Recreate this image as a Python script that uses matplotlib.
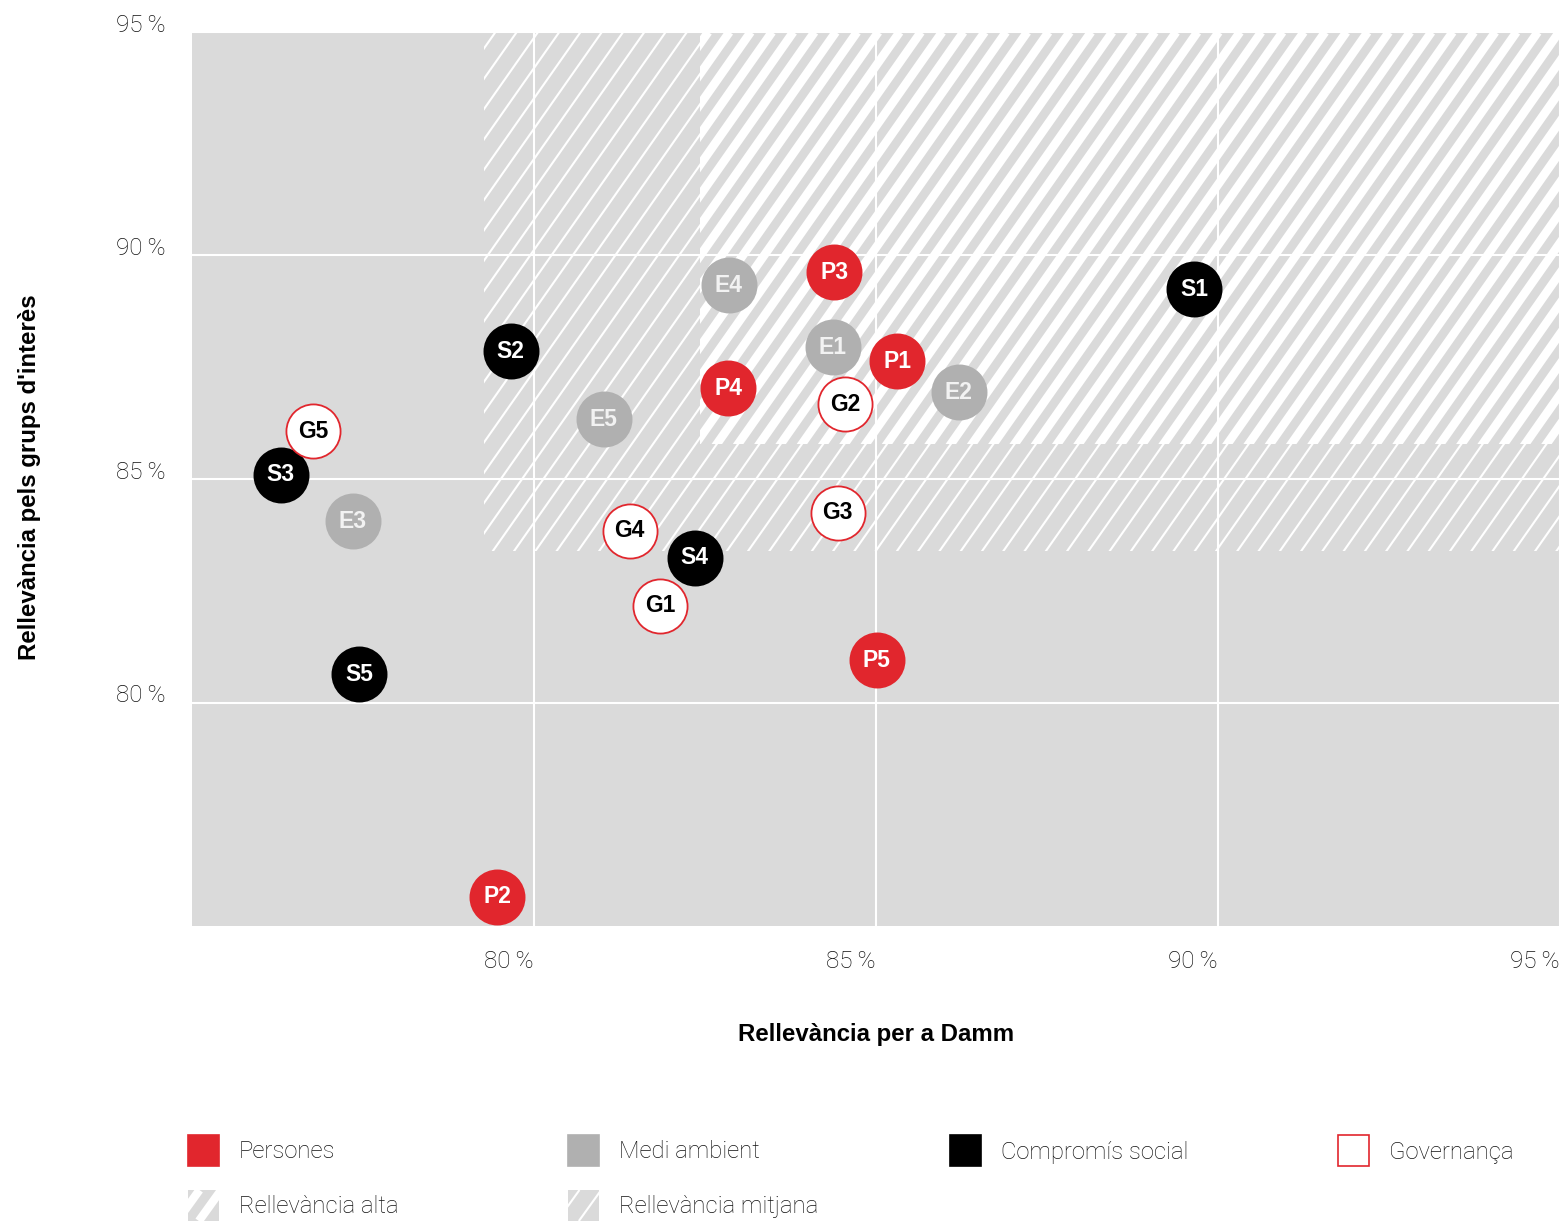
import numpy as np
import matplotlib
matplotlib.use('Agg')
import matplotlib.pyplot as plt
from matplotlib.patches import Rectangle
from matplotlib.collections import LineCollection

# Dades: rellevància per a Damm (x) i per als grups d'interès (y), en %
persones_lbl = ['P1', 'P2', 'P3', 'P4', 'P5']
persones_x = [85.31, 79.46, 84.39, 82.84, 85.01]
persones_y = [87.63, 75.65, 89.62, 87.03, 80.94]

medi_lbl = ['E1', 'E2', 'E3', 'E4', 'E5']
medi_x = [84.37, 86.21, 77.35, 82.85, 81.02]
medi_y = [87.95, 86.94, 84.06, 89.33, 86.34]

social_lbl = ['S1', 'S2', 'S3', 'S4', 'S5']
social_x = [89.65, 79.66, 76.30, 82.35, 77.44]
social_y = [89.24, 87.86, 85.09, 83.24, 80.63]

gov_lbl = ['G1', 'G2', 'G3', 'G4', 'G5']
gov_x = [81.84, 84.55, 84.44, 81.40, 76.77]
gov_y = [82.17, 86.67, 84.24, 83.84, 86.07]

# llindars de les zones
mitjana_x, mitjana_y = 79.27, 83.4
alta_x, alta_y = 82.43, 85.78

ticks = [80, 85, 90, 95]
tick_lbl = ['%d\u2009%%' % t for t in ticks]

RED = '#E1262D'
GRAY = '#B0B0B0'
BG = '#DADADA'
TXT = '#111111'
LIGHT = ['Roboto', 'DejaVu Sans']
BOLD = ['Liberation Sans', 'DejaVu Sans']

fig = plt.figure(figsize=(15.65, 12.21), dpi=100)
ax = fig.add_axes([192/1565, 295/1221, 1368/1565, 894/1221])
ax.set_facecolor(BG)
for s in ax.spines.values():
    s.set_visible(False)

k = 2.18      # pendent de les ratlles (unitats de dades)
step = 0.311  # separació horitzontal


def ratlles(rect, lw, z):
    x0s = np.arange(60, 100, step)
    segs = [[(x, 75), (x + 20 / k, 95)] for x in x0s]
    lc = LineCollection(segs, colors='white', linewidths=lw, zorder=z, capstyle='butt')
    ax.add_collection(lc, autolim=False)
    lc.set_clip_path(rect)


r_mit = Rectangle((mitjana_x, mitjana_y), 95 - mitjana_x, 95 - mitjana_y,
                  facecolor=BG, edgecolor='none', zorder=1)
ax.add_patch(r_mit)
ratlles(r_mit, 1.5, 1.1)

r_alta = Rectangle((alta_x, alta_y), 95 - alta_x, 95 - alta_y,
                   facecolor=BG, edgecolor='none', zorder=1.2)
ax.add_patch(r_alta)
ratlles(r_alta, 6.2, 1.3)

ax.set_xlim(75, 95)
ax.set_ylim(75, 95)
ax.set_xticks(ticks)
ax.set_yticks(ticks)
ax.set_xticklabels(tick_lbl, fontfamily=LIGHT, fontweight='light', fontsize=17.5, color=TXT, ha='right')
ax.set_yticklabels(tick_lbl, fontfamily=LIGHT, fontweight='light', fontsize=17.5, color=TXT, va='baseline')
ax.tick_params(axis='x', length=0, pad=17)
ax.tick_params(axis='y', length=0, pad=19)
ax.grid(True, color='white', linewidth=1.5)
for g in ax.get_xgridlines() + ax.get_ygridlines():
    g.set_zorder(2)

series = [
    (persones_lbl, persones_x, persones_y, RED, RED, 'white'),
    (medi_lbl, medi_x, medi_y, GRAY, GRAY, '#F2F2F2'),
    (social_lbl, social_x, social_y, 'black', 'black', 'white'),
    (gov_lbl, gov_x, gov_y, 'white', RED, 'black'),
]
for lbl, xs, ys, fc, ec, tc in series:
    ax.scatter(xs, ys, s=1520, c=fc, edgecolors=ec, linewidths=1.3, zorder=3, clip_on=False)
    for t, x, y in zip(lbl, xs, ys):
        ax.text(x, y, t, ha='center', va='center', color=tc, fontsize=16.5,
                fontweight='bold', fontfamily=BOLD, zorder=4)

fig.text(876/1565, 1 - 1035/1221, 'Rellevància per a Damm', ha='center', va='center',
         fontsize=17.3, fontweight='bold', fontfamily=BOLD)
fig.text(30/1565, 1 - 477/1221, "Rellevància pels grups d'interès", ha='center', va='center',
         rotation=90, fontsize=17.3, fontweight='bold', fontfamily=BOLD)

# llegenda
leg_items = [('Persones', RED, RED), ('Medi ambient', GRAY, GRAY),
             ('Compromís social', 'black', 'black'), ('Governança', 'white', RED)]
cols = [188, 568, 950, 1338]
W, H = 1565, 1221
for (txt, fc, ec), cx in zip(leg_items, cols):
    fig.add_artist(Rectangle((cx / W, 1 - 1166 / H), 31 / W, 31 / H, facecolor=fc,
                             edgecolor=ec, linewidth=1.2, transform=fig.transFigure))
    fig.text((cx + 51) / W, 1 - 1152 / H, txt, ha='left', va='center', fontsize=17.2,
             fontfamily=LIGHT, fontweight='light', color=TXT)

for txt, lw, cx in [('Rellevància alta', 6.0, cols[0]), ('Rellevància mitjana', 1.5, cols[1])]:
    iax = fig.add_axes([cx / W, 1 - 1221 / H, 31 / W, 31 / H])
    iax.set_xlim(0, 1)
    iax.set_ylim(0, 1)
    iax.axis('off')
    iax.add_patch(Rectangle((0, 0), 1, 1, facecolor=BG, edgecolor='none'))
    for x0 in [-0.35, 0.35]:
        iax.plot([x0, x0 + 0.72], [0, 1], color='white', lw=lw, solid_capstyle='butt')
    fig.text((cx + 51) / W, 1 - 1206 / H, txt, ha='left', va='center', fontsize=17.2,
             fontfamily=LIGHT, fontweight='light', color=TXT)

fig.savefig('out.png', dpi=100)
